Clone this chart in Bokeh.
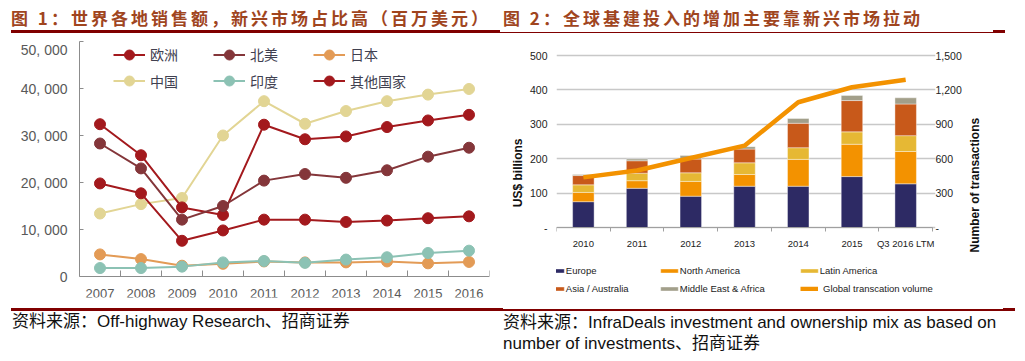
import math
from bokeh.plotting import figure
from bokeh.layouts import row, column
from bokeh.models import (Range1d, LinearAxis, FixedTicker, Div,
                          Legend, LegendItem, ColumnDataSource)
from bokeh.embed import file_html
from bokeh.resources import INLINE

# ---------------- data: figure 1 (million USD) ----------------
years = [2007, 2008, 2009, 2010, 2011, 2012, 2013, 2014, 2015, 2016]
year_labels = ["2007", "2008", "2009", "2010", "2011", "2012", "2013", "2014", "2015", "2016"]
europe = [32400, 25800, 14700, 13100, 32300, 29200, 29800, 31800, 33200, 34400]
north_america = [28300, 23000, 12100, 15000, 20400, 21800, 21000, 22600, 25500, 27400]
japan = [4700, 3700, 2300, 2700, 3200, 3000, 3000, 3200, 2800, 3100]
china = [13400, 15400, 16700, 30000, 37300, 32500, 35200, 37300, 38700, 39900]
india = [1800, 1800, 2100, 3000, 3300, 2900, 3600, 4100, 5000, 5500]
others = [19800, 17700, 7600, 9800, 12100, 12100, 11600, 11900, 12400, 12800]
y1_ticks = [0, 10000, 20000, 30000, 40000, 50000]
y1_labels = ["0", "10, 000", "20, 000", "30, 000", "40, 000", "50, 000"]
series1_names = ["欧洲", "北美", "日本", "中国", "印度", "其他国家"]

# ---------------- data: figure 2 (USD billions / number) ----------------
periods = ["2010", "2011", "2012", "2013", "2014", "2015", "Q3 2016 LTM"]
europe_b = [75, 114, 91, 120, 120, 148, 127]
north_america_b = [27, 22, 43, 34, 78, 94, 94]
latin_america_b = [22, 22, 25, 34, 34, 36, 46]
asia_australia_b = [27, 36, 40, 40, 71, 91, 92]
mea_b = [3, 5, 10, 7, 14, 15, 18]
transactions = [437, 497, 606, 714, 1092, 1223, 1288]
y2_ticks = [0, 100, 200, 300, 400, 500]
y2_labels = ["-", "100", "200", "300", "400", "500"]
y3_ticks = [0, 300, 600, 900, 1200, 1500]
y3_labels = ["-", "300", "600", "900", "1,200", "1,500"]
series2_names = ["Europe", "North America", "Latin America", "Asia / Australia",
                 "Middle East & Africa", "Global transcation volume"]

title1 = "图 1：世界各地销售额，新兴市场占比高（百万美元）"
title2 = "图 2：全球基建投入的增加主要靠新兴市场拉动"
source1 = "资料来源：Off-highway Research、招商证券"
source2a = "资料来源：InfraDeals investment and ownership mix as based on"
source2b = "number of investments、招商证券"

TITLE_COLOR = "#a0451e"
RULE_COLOR = "#800000"
CJK = "Noto Sans CJK SC"
SANS = "Liberation Sans"

# ---------------- layout geometry (page pixels) ----------------
TOP_H = 41            # height of the title banner (frames start here)
FRAME_BOTTOM = 297    # common frame bottom of both charts
BORDER_BOTTOM = 30
ROW_H = FRAME_BOTTOM - TOP_H + BORDER_BOTTOM
BOTTOM_START = 306

# ======================= LEFT CHART =======================
L1_BASE, L1_TOP = 276, 41  # page y of 0 and of 50,000
u1 = (y1_ticks[-1] - y1_ticks[0]) / (L1_BASE - L1_TOP)
p1 = figure(width=500, height=ROW_H, output_backend="svg", toolbar_location=None,
            x_range=Range1d(2006.5, 2016.5),
            y_range=Range1d(-(FRAME_BOTTOM - L1_BASE) * u1, y1_ticks[-1] + (L1_TOP - TOP_H) * u1),
            min_border=0, min_border_left=79, min_border_right=11, min_border_top=0,
            min_border_bottom=BORDER_BOTTOM)
p1.outline_line_color = None
p1.xgrid.visible = False
p1.ygrid.visible = False

ax = p1.xaxis[0]
ax.fixed_location = 0
ax.ticker = FixedTicker(ticks=years, minor_ticks=[y - 0.5 for y in years] + [years[-1] + 0.5])
ax.major_label_overrides = {y: l for y, l in zip(years, year_labels)}
ax.major_tick_in = 0
ax.major_tick_out = 0
ax.minor_tick_in = 6
ax.minor_tick_out = 0
ax.minor_tick_line_color = "#8c8c8c"
ax.axis_line_color = "#8c8c8c"
ax.major_label_standoff = 12
ax.major_label_text_font = SANS
ax.major_label_text_font_size = "13px"
ax.major_label_text_color = "#595959"

ay = p1.yaxis[0]
ay.bounds = (y1_ticks[0], y1_ticks[-1])
ay.ticker = FixedTicker(ticks=y1_ticks)
ay.major_label_overrides = {t: l for t, l in zip(y1_ticks, y1_labels)}
ay.major_tick_in = 4
ay.major_tick_out = 0
ay.minor_tick_line_color = None
ay.major_tick_line_color = "#8c8c8c"
ay.axis_line_color = "#8c8c8c"
ay.major_label_standoff = 12
ay.major_label_text_font = SANS
ay.major_label_text_font_size = "14px"
ay.major_label_text_color = "#595959"

colors1 = {"欧洲": "#a3191d", "北美": "#84363a", "日本": "#e39b56",
           "中国": "#e2d594", "印度": "#8cc2b4", "其他国家": "#a3191d"}
data1 = {"欧洲": europe, "北美": north_america, "日本": japan,
         "中国": china, "印度": india, "其他国家": others}
draw_order = ["中国", "其他国家", "欧洲", "北美", "日本", "印度"]
rend1 = {}
for name in draw_order:
    c = colors1[name]
    lr = p1.line(years, data1[name], line_color=c, line_width=2)
    sr = p1.scatter(years, data1[name], marker="circle", size=11, fill_color=c, line_color=c)
    rend1[name] = [lr, sr]

FL1 = 79
leg_cols1 = [113, 213, 313]
leg_rows1 = [54, 80.5]
for i, name in enumerate(series1_names):
    cx = leg_cols1[i % 3]
    cy = leg_rows1[i // 3]
    lg = Legend(items=[LegendItem(label=name, renderers=rend1[name])],
                location=(cx - FL1, FRAME_BOTTOM - (cy + 12.5)),
                glyph_width=32, glyph_height=25, label_height=25, label_standoff=5,
                padding=0, margin=0, spacing=0, border_line_color=None,
                background_fill_alpha=0, label_text_font=CJK,
                label_text_font_size="14px", label_text_color="#404050")
    p1.add_layout(lg)

# ======================= RIGHT CHART =======================
FL2 = 551
SLOT = 381 / len(periods)          # px per category
EXTRA_R = 3                        # frame extends a little past the last slot
R_BASE, R_TOP = 227, 55            # page y of 0 and of 500
u2 = (y2_ticks[-1] - y2_ticks[0]) / (R_BASE - R_TOP)
k = y3_ticks[-1] / y2_ticks[-1]
y2_start = -(FRAME_BOTTOM - R_BASE) * u2
y2_end = y2_ticks[-1] + (R_TOP - TOP_H) * u2
xpos = list(range(len(periods)))
p2 = figure(width=524, height=ROW_H, output_backend="svg", toolbar_location=None,
            x_range=Range1d(-0.5, len(periods) - 0.5 + EXTRA_R / SLOT),
            y_range=Range1d(y2_start, y2_end),
            min_border=0, min_border_left=51, min_border_right=92 - EXTRA_R, min_border_top=0,
            min_border_bottom=BORDER_BOTTOM)
p2.outline_line_color = None
p2.xgrid.visible = False
p2.ygrid.ticker = FixedTicker(ticks=y2_ticks)
p2.ygrid.grid_line_color = "#c8c8c8"
p2.ygrid.grid_line_width = 1.3
p2.extra_y_ranges = {"tx": Range1d(y2_start * k, y2_end * k)}

bx = p2.xaxis[0]
bx.fixed_location = 0
bx.bounds = (-0.5, len(periods) - 0.5)
bx.ticker = FixedTicker(ticks=xpos, minor_ticks=[x - 0.5 for x in xpos] + [xpos[-1] + 0.5])
bx.major_label_overrides = {x: l for x, l in zip(xpos, periods)}
bx.major_tick_in = 0
bx.major_tick_out = 0
bx.minor_tick_in = 0
bx.minor_tick_out = 4
bx.minor_tick_line_color = "#a0a0a0"
bx.axis_line_color = "#a0a0a0"
bx.major_label_standoff = 6
bx.major_label_text_font = SANS
bx.major_label_text_font_size = "9.5px"
bx.major_label_text_color = "#222222"

by = p2.yaxis[0]
by.ticker = FixedTicker(ticks=y2_ticks)
by.major_label_overrides = {t: l for t, l in zip(y2_ticks, y2_labels)}
by.major_tick_in = 0
by.major_tick_out = 0
by.minor_tick_line_color = None
by.axis_line_color = None
by.major_label_standoff = 9
by.major_label_text_font = SANS
by.major_label_text_font_size = "10.5px"
by.major_label_text_color = "#222222"

# axis title "US$ billions" (reads bottom to top), drawn as one rotated tick label
USD_TITLE_AT = (R_BASE - 138) * u2
usd_ax = LinearAxis(ticker=FixedTicker(ticks=[USD_TITLE_AT]),
                    major_label_overrides={USD_TITLE_AT: "US$ billions"},
                    major_label_orientation=math.pi / 2,
                    axis_line_color=None, major_tick_line_color=None, minor_tick_line_color=None,
                    major_tick_in=0, major_tick_out=0, major_label_standoff=9,
                    major_label_text_font=SANS, major_label_text_font_size="12px",
                    major_label_text_font_style="bold", major_label_text_color="#111111")
p2.add_layout(usd_ax, "left")

ry = LinearAxis(y_range_name="tx", ticker=FixedTicker(ticks=y3_ticks))
ry.major_label_overrides = {t: l for t, l in zip(y3_ticks, y3_labels)}
ry.major_tick_in = 0
ry.major_tick_out = 0
ry.minor_tick_line_color = None
ry.axis_line_color = None
ry.major_label_standoff = 0
ry.major_label_text_font = SANS
ry.major_label_text_font_size = "10.5px"
ry.major_label_text_color = "#222222"
p2.add_layout(ry, "right")

TX_TITLE_AT = (R_BASE - 252) * u2 * k
tx_ax = LinearAxis(y_range_name="tx", ticker=FixedTicker(ticks=[TX_TITLE_AT]),
                   major_label_overrides={TX_TITLE_AT: "Number of transactions"},
                   major_label_orientation=math.pi / 2,
                   axis_line_color=None, major_tick_line_color=None, minor_tick_line_color=None,
                   major_tick_in=0, major_tick_out=0, major_label_standoff=10,
                   major_label_text_font=SANS, major_label_text_font_size="12px",
                   major_label_text_font_style="bold", major_label_text_color="#111111")
p2.add_layout(tx_ax, "right")

src = ColumnDataSource(dict(x=xpos, europe=europe_b, na=north_america_b, latin=latin_america_b,
                            asia=asia_australia_b, mea=mea_b))
stack_keys = ["europe", "na", "latin", "asia", "mea"]
stack_colors = ["#2d2a64", "#f39200", "#e6b834", "#c8591a", "#a29f8a"]
bars = p2.vbar_stack(stack_keys, x="x", width=0.4, color=stack_colors, source=src,
                     line_color="#ffffff", line_width=0.4)
ln = p2.line(xpos, transactions, y_range_name="tx", line_color="#f39200", line_width=4.5)

leg_cols2 = [541, 655, 795]
leg_rows2 = [270, 288]
for i, name in enumerate(series2_names):
    sx0 = leg_cols2[i % 3]
    cy = leg_rows2[i // 3]
    if i < 5:
        lg = Legend(items=[LegendItem(label=name, renderers=[bars[i]])],
                    location=(sx0 - 2.2 - FL2, FRAME_BOTTOM - (cy + 8)),
                    glyph_width=22, glyph_height=5, label_height=16, label_standoff=0)
    else:
        lg = Legend(items=[LegendItem(label=name, renderers=[ln])],
                    location=(sx0 - FL2, FRAME_BOTTOM - (cy + 8)),
                    glyph_width=18, glyph_height=5, label_height=16, label_standoff=5)
    lg.padding = 0
    lg.margin = 0
    lg.spacing = 0
    lg.border_line_color = None
    lg.background_fill_alpha = 0
    lg.label_text_font = SANS
    lg.label_text_font_size = "9.5px"
    lg.label_text_color = "#222222"
    p2.add_layout(lg)

# ======================= BANNERS =======================
TFONT = ("font-family:'Noto Sans CJK SC',sans-serif;font-weight:bold;font-size:17px;"
         "letter-spacing:3px;line-height:20px;white-space:nowrap;color:%s;" % TITLE_COLOR)
SFONT = ("font-family:'Liberation Sans','Noto Sans CJK SC',sans-serif;font-size:17px;"
         "line-height:20px;white-space:nowrap;color:#111111;")


def box(x, y, w, h, color=RULE_COLOR):
    return ('<div style="position:absolute;left:%spx;top:%spx;width:%spx;height:%spx;'
            'background:%s;"></div>' % (x, y, w, h, color))


def txt(x, y, text, style):
    return '<div style="position:absolute;left:%spx;top:%spx;%s">%s</div>' % (x, y, style, text)


top_html = ('<div style="position:relative;width:1024px;height:%dpx;">' % TOP_H
            + txt(11, 7.5, title1, TFONT)
            + box(11, 30, 489, 3)
            + txt(503, 7.5, title2, TFONT)
            + box(500, 31.5, 493, 1.5)
            + box(993, 30, 12, 3)
            + '</div>')
BOTTOM_H = 50
bottom_html = ('<div style="position:relative;width:1024px;height:%dpx;">' % BOTTOM_H
               + box(11, 2, 492, 3)
               + box(503, 3, 500, 1.5)
               + box(1003, 2, 12, 3)
               + txt(12, 6, source1, SFONT)
               + txt(503, 7, source2a, SFONT)
               + txt(503, 28, source2b, SFONT)
               + '</div>')

top_div = Div(text=top_html, width=1024, height=TOP_H, margin=0)
bottom_div = Div(text=bottom_html, width=1024, height=BOTTOM_H,
                 margin=(BOTTOM_START - (TOP_H + ROW_H), 0, 0, 0))

layout = column(top_div, row(p1, p2), bottom_div)
open("out.html", "w").write(file_html(layout, INLINE))
